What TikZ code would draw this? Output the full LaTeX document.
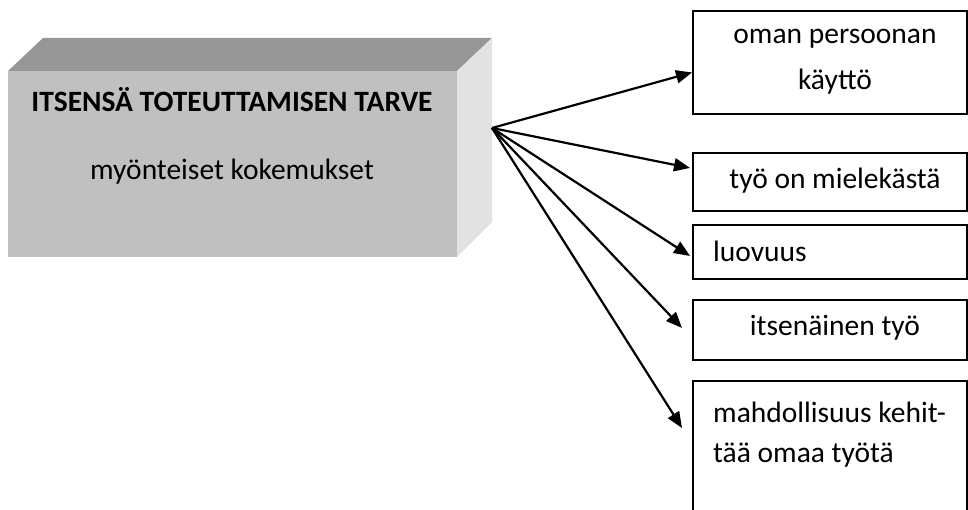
\documentclass[tikz,border=0pt]{standalone}
\usepackage{fontspec}
\setmainfont{Carlito}
\usetikzlibrary{arrows.meta,calc}
\definecolor{frontgray}{HTML}{C0C0C0}
\definecolor{topgray}{HTML}{969696}
\definecolor{sidegray}{HTML}{E2E2E2}
\tikzset{
  itembox/.style={draw=black, line width=1.9pt, minimum width=274pt, anchor=north west, inner sep=0pt},
  txt/.style={inner sep=0pt, anchor=base, font=\fontsize{29.5}{35}\selectfont},
  ltxt/.style={txt, anchor=base west},
  link/.style={line width=2.2pt, -{Triangle[length=16pt,width=13pt]}},
}
\begin{document}
\begin{tikzpicture}[x=1pt,y=-1pt]
\useasboundingbox (0,0) rectangle (968,510);
\clip (0,0) rectangle (968,510);
% raised block
\fill[topgray] (8,71) -- (43,38) -- (492,38) -- (457,71) -- cycle;
\fill[sidegray] (457,71) -- (492,38) -- (492,222) -- (457,257) -- cycle;
\fill[frontgray] (8,71) rectangle (457,257);
\node[txt, font=\fontsize{29.5}{35}\selectfont\bfseries] (title) at (232,112) {ITSENSÄ TOTEUTTAMISEN TARVE};
\node[txt] (sub) at (232,180) {myönteiset kokemukset};
\coordinate (src) at (492,128);
% target boxes
\node[itembox, minimum height=103pt] (b1) at (692,10) {};
\node[itembox, minimum height=58pt] (b2) at (692,152) {};
\node[itembox, minimum height=54pt] (b3) at (692,224) {};
\node[itembox, minimum height=60pt] (b4) at (692,299) {};
\node[itembox, minimum height=160pt] (b5) at (692,380) {};
% box labels
\node[txt] (t1a) at (835,44) {oman persoonan};
\node[txt] (t1b) at (835,90) {käyttö};
\node[txt] (t2) at (835,189) {työ on mielekästä};
\node[ltxt] (t3) at (713,262) {luovuus};
\node[txt] (t4) at (835,335) {itsenäinen työ};
\node[ltxt] (t5a) at (713,422) {mahdollisuus kehit-};
\node[ltxt] (t5b) at (713,462) {tää omaa työtä};
% connectors
\draw[link] (src) -- ($(b1.west)+(0,10)$);
\draw[link] (src) -- ($(b2.west)+(-2,-14)$);
\draw[link] (src) -- ($(b3.west)+(-2,4)$);
\draw[link] (src) -- ($(b4.west)+(-10,-2)$);
\draw[link] (src) -- ($(b5.north west)+(-10,48)$);
\end{tikzpicture}
\end{document}
